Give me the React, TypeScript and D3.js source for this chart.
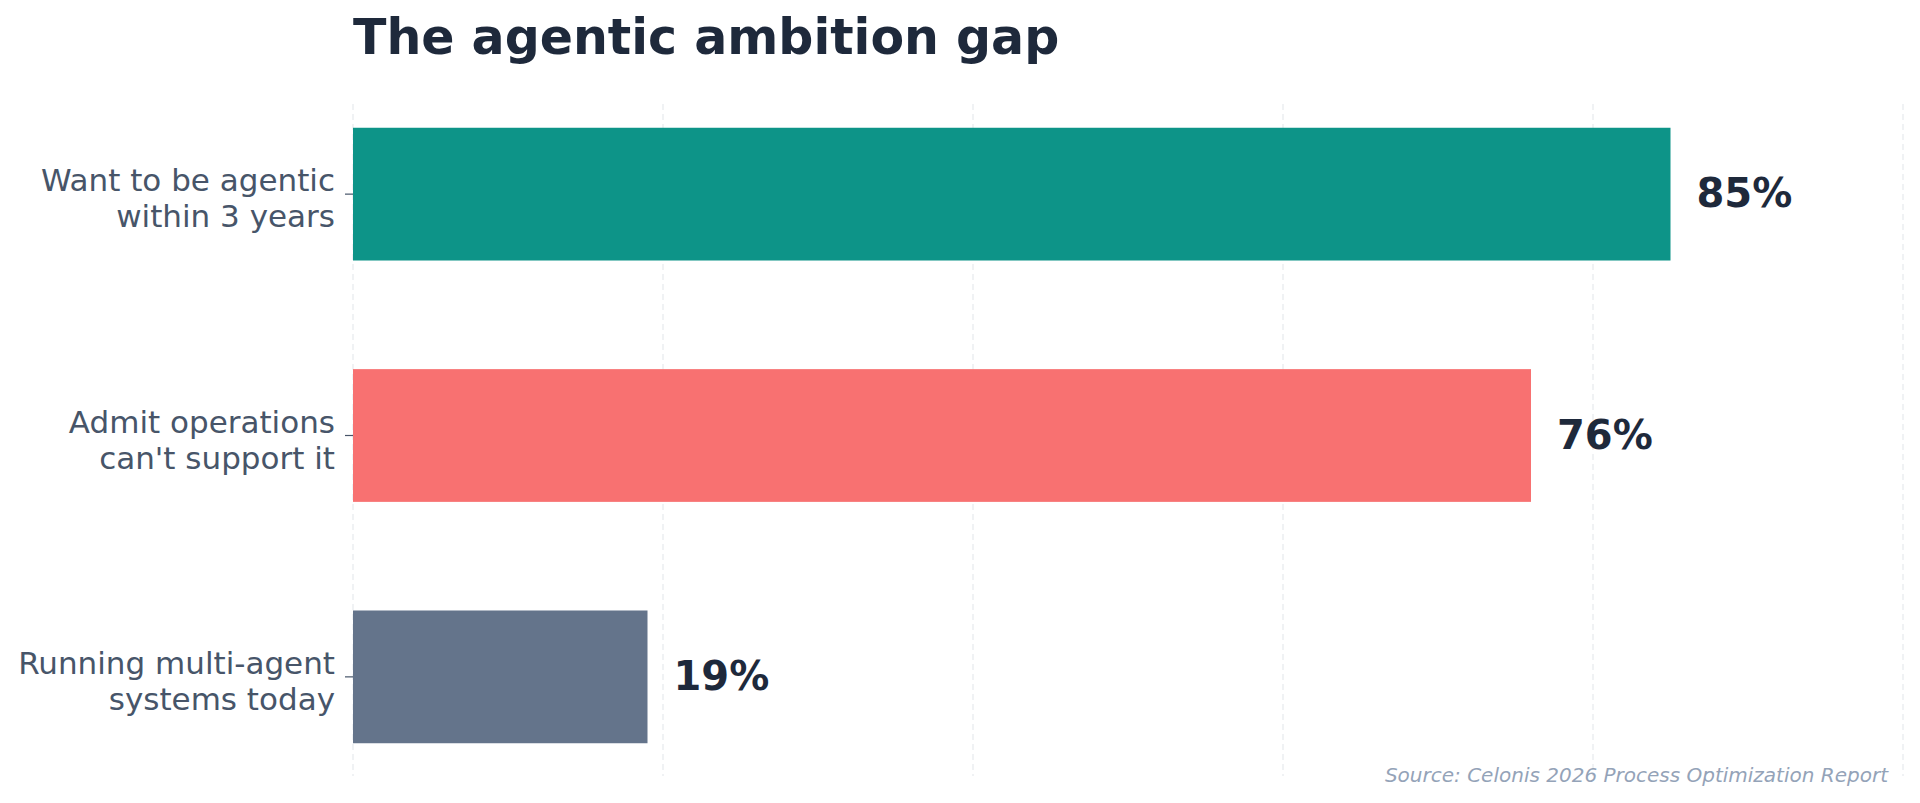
import React, { useEffect, useRef } from 'react';
import * as d3 from 'd3';

// Données du graphique
const categories = ['Want to be agentic\nwithin 3 years', "Admit operations\ncan't support it", 'Running multi-agent\nsystems today'];
const values = [85, 76, 19];
const barColors = ['#0d9488', '#f87171', '#64748b'];
const xTicks = [0, 20, 40, 60, 80, 100];
const title = 'The agentic ambition gap';
const source = 'Source: Celonis 2026 Process Optimization Report';

const width = 1920;
const height = 803;
const margin = { top: 100, right: 17, bottom: 32, left: 353 };
const font = '"DejaVu Sans", sans-serif';

const App: React.FC = () => {
  const svgRef = useRef<SVGSVGElement>(null);

  useEffect(() => {
    if (!svgRef.current) return;
    const svg = d3.select(svgRef.current);
    svg.selectAll('*').remove();

    const x = d3.scaleLinear()
      .domain([0, 100])
      .range([margin.left, width - margin.right]);

    const y = d3.scaleBand<number>()
      .domain(d3.range(categories.length))
      .range([margin.top, height - margin.bottom])
      .paddingInner(0.45)
      .paddingOuter(0.115);

    // Grille verticale pointillée
    const grid = svg.append('g');
    xTicks.forEach(t => {
      grid.append('line')
        .attr('x1', x(t)).attr('x2', x(t))
        .attr('y1', 104).attr('y2', 776)
        .attr('stroke', '#e5e7eb')
        .attr('stroke-width', 1.5)
        .attr('stroke-dasharray', '6,4')
        .attr('opacity', 0.7);
    });

    // Barres
    svg.append('g').selectAll('rect')
      .data(values)
      .enter().append('rect')
      .attr('x', x(0))
      .attr('y', (_, i) => y(i)!)
      .attr('width', d => x(d) - x(0))
      .attr('height', y.bandwidth())
      .attr('fill', (_, i) => barColors[i]);

    // Axe Y : petits ticks + libellés sur deux lignes
    const axis = svg.append('g');
    categories.forEach((c, i) => {
      const cy = y(i)! + y.bandwidth() / 2;
      axis.append('line')
        .attr('x1', x(0) - 8).attr('x2', x(0))
        .attr('y1', cy).attr('y2', cy)
        .attr('stroke', '#475569')
        .attr('stroke-width', 1.2);
      const lines = c.split('\n');
      const txt = axis.append('text')
        .attr('text-anchor', 'end')
        .attr('fill', '#475569')
        .style('font-family', font)
        .style('font-size', '31px');
      lines.forEach((l, k) => {
        txt.append('tspan')
          .attr('x', x(0) - 18)
          .attr('y', cy - 3 + k * 36)
          .text(l);
      });
    });

    // Valeurs en bout de barre
    svg.append('g').selectAll('text')
      .data(values)
      .enter().append('text')
      .attr('x', d => x(d) + 26)
      .attr('y', (_, i) => y(i)! + y.bandwidth() / 2 + 13)
      .attr('fill', '#1e293b')
      .style('font-family', font)
      .style('font-size', '40px')
      .style('font-weight', 'bold')
      .text(d => `${d}%`);

    // Titre
    svg.append('text')
      .attr('x', margin.left)
      .attr('y', 54)
      .attr('fill', '#1e293b')
      .style('font-family', font)
      .style('font-size', '49px')
      .style('font-weight', 'bold')
      .text(title);

    // Source
    svg.append('text')
      .attr('x', 1888)
      .attr('y', 782)
      .attr('text-anchor', 'end')
      .attr('fill', '#94a3b8')
      .style('font-family', font)
      .style('font-size', '20px')
      .style('font-style', 'italic')
      .text(source);
  }, []);

  return (
    <div style={{ position: 'absolute', left: 0, top: 0, background: '#ffffff' }}>
      <svg ref={svgRef} width={width} height={height} style={{ display: 'block' }} />
    </div>
  );
};

export default App;
